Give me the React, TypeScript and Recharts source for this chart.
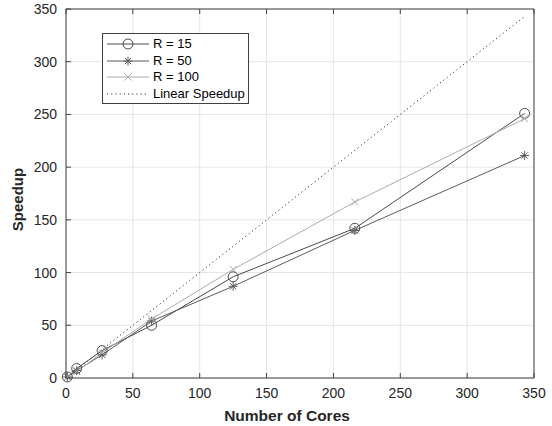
import React from 'react';
import { LineChart, Line, XAxis, YAxis, CartesianGrid } from 'recharts';

// number of cores used in each run
const cores = [1, 8, 27, 64, 125, 216, 343];
// measured speedup per refinement level
const r15 = [1, 9, 26, 50, 96, 142, 251];
const r50 = [1, 7, 22, 54, 87, 140, 211];
const r100 = [1, 6, 24, 56, 103, 167, 246];
// ideal speedup
const linear = [1, 8, 27, 64, 125, 216, 343];

const axisTicks = [0, 50, 100, 150, 200, 250, 300, 350];

const data = cores.map((c, i) => ({
  cores: c,
  r15: r15[i],
  r50: r50[i],
  r100: r100[i],
  linear: linear[i],
}));

const INK = '#262626';
const BOX = '#404040';
const FONT = '"Liberation Sans", Arial, Helvetica, sans-serif';

type MarkerKind = 'circle' | 'star' | 'cross' | 'none';

const series: { key: string; name: string; color: string; marker: MarkerKind }[] = [
  { key: 'r15', name: 'R = 15', color: '#4a4a4a', marker: 'circle' },
  { key: 'r50', name: 'R = 50', color: '#5c5c5c', marker: 'star' },
  { key: 'r100', name: 'R = 100', color: '#acacac', marker: 'cross' },
];

function Marker({ kind, cx, cy, color }: { kind: MarkerKind; cx: number; cy: number; color: string }) {
  if (kind === 'circle') {
    return <circle cx={cx} cy={cy} r={5} fill="none" stroke={color} strokeWidth={1} />;
  }
  if (kind === 'star') {
    const r = 4.5;
    const d = r * 0.707;
    return (
      <g stroke={color} strokeWidth={1}>
        <line x1={cx - r} y1={cy} x2={cx + r} y2={cy} />
        <line x1={cx} y1={cy - r} x2={cx} y2={cy + r} />
        <line x1={cx - d} y1={cy - d} x2={cx + d} y2={cy + d} />
        <line x1={cx - d} y1={cy + d} x2={cx + d} y2={cy - d} />
      </g>
    );
  }
  if (kind === 'cross') {
    const d = 3.5;
    return (
      <g stroke={color} strokeWidth={1}>
        <line x1={cx - d} y1={cy - d} x2={cx + d} y2={cy + d} />
        <line x1={cx - d} y1={cy + d} x2={cx + d} y2={cy - d} />
      </g>
    );
  }
  return null;
}

// ticks point inward, like the original plot
const BottomTick = (p: any) => (
  <g>
    <line x1={p.x} x2={p.x} y1={p.y} y2={p.y - 5} stroke={BOX} />
    <text x={p.x} y={p.y + 19.5} textAnchor="middle" fill={INK} fontSize={14} fontFamily={FONT}>
      {p.payload.value}
    </text>
  </g>
);
const LeftTick = (p: any) => (
  <g>
    <line x1={p.x} x2={p.x + 5} y1={p.y} y2={p.y} stroke={BOX} />
    <text x={p.x - 9} y={p.y} dy="0.36em" textAnchor="end" fill={INK} fontSize={14} fontFamily={FONT}>
      {p.payload.value}
    </text>
  </g>
);
const TopTick = (p: any) => <line x1={p.x} x2={p.x} y1={p.y} y2={p.y + 5} stroke={BOX} />;
const RightTick = (p: any) => <line x1={p.x} x2={p.x - 5} y1={p.y} y2={p.y} stroke={BOX} />;

const XLabel = (p: any) => {
  const vb = p.viewBox;
  return (
    <text x={vb.x + vb.width / 2 - 13} y={vb.y + 43} textAnchor="middle" fill={INK}
      fontSize={15.5} fontWeight="bold" fontFamily={FONT}>
      Number of Cores
    </text>
  );
};
const YLabel = (p: any) => {
  const vb = p.viewBox;
  const cx = 23;
  const cy = vb.y + vb.height / 2 + 6;
  return (
    <text x={cx} y={cy} transform={`rotate(-90, ${cx}, ${cy})`} textAnchor="middle" fill={INK}
      fontSize={15} fontWeight="bold" fontFamily={FONT}>
      Speedup
    </text>
  );
};

function LegendBox() {
  const rows = [
    ...series.map((s) => ({ name: s.name, color: s.color, marker: s.marker, dotted: false })),
    { name: 'Linear Speedup', color: '#333', marker: 'none' as MarkerKind, dotted: true },
  ];
  return (
    <div
      style={{
        position: 'absolute', left: 102, top: 33, width: 147, height: 71, boxSizing: 'border-box',
        border: `1px solid ${BOX}`, background: '#fff', paddingTop: 2, fontFamily: FONT, fontSize: 13, color: '#000',
      }}
    >
      {rows.map((r) => (
        <div key={r.name} style={{ height: 16.6, display: 'flex', alignItems: 'center' }}>
          <svg width={50} height={16} style={{ display: 'block' }}>
            <line x1={4} x2={46} y1={8} y2={8} stroke={r.color} strokeWidth={1}
              strokeDasharray={r.dotted ? '1.2 3' : undefined} />
            <Marker kind={r.marker} cx={25} cy={8} color={r.color} />
          </svg>
          <span style={{ lineHeight: '16px' }}>{r.name}</span>
        </div>
      ))}
    </div>
  );
}

export default function App() {
  return (
    <div style={{ position: 'absolute', left: 0, top: 0, width: 552, height: 426, background: '#fff' }}>
      <LineChart width={552} height={426} data={data} margin={{ top: 0, right: 0, bottom: 0, left: 0 }}>
        <CartesianGrid stroke="#e5e5e5" strokeWidth={1} />
        <XAxis dataKey="cores" type="number" domain={[0, 350]} ticks={axisTicks} height={48}
          axisLine={{ stroke: BOX }} tickLine={false} tickSize={0} tickMargin={0} tick={BottomTick}
          interval={0} label={XLabel} />
        <XAxis xAxisId="top" orientation="top" dataKey="cores" type="number" domain={[0, 350]} ticks={axisTicks}
          height={9} axisLine={{ stroke: BOX }} tickLine={false} tickSize={0} tickMargin={0} tick={TopTick} interval={0} />
        <YAxis type="number" domain={[0, 350]} ticks={axisTicks} width={66}
          axisLine={{ stroke: BOX }} tickLine={false} tickSize={0} tickMargin={0} tick={LeftTick}
          interval={0} label={YLabel} />
        <YAxis yAxisId="right" orientation="right" type="number" domain={[0, 350]} ticks={axisTicks} width={18}
          axisLine={{ stroke: BOX }} tickLine={false} tickSize={0} tickMargin={0} tick={RightTick} interval={0} />
        <Line dataKey="linear" stroke="#333" strokeWidth={1} strokeDasharray="1.2 3" dot={false}
          isAnimationActive={false} />
        {series.map((s) => (
          <Line key={s.key} dataKey={s.key} stroke={s.color} strokeWidth={1} isAnimationActive={false}
            dot={(p: any) => <Marker key={`${s.key}-${p.index}`} kind={s.marker} cx={p.cx} cy={p.cy} color={s.color} />}
            activeDot={false} />
        ))}
      </LineChart>
      <LegendBox />
    </div>
  );
}
